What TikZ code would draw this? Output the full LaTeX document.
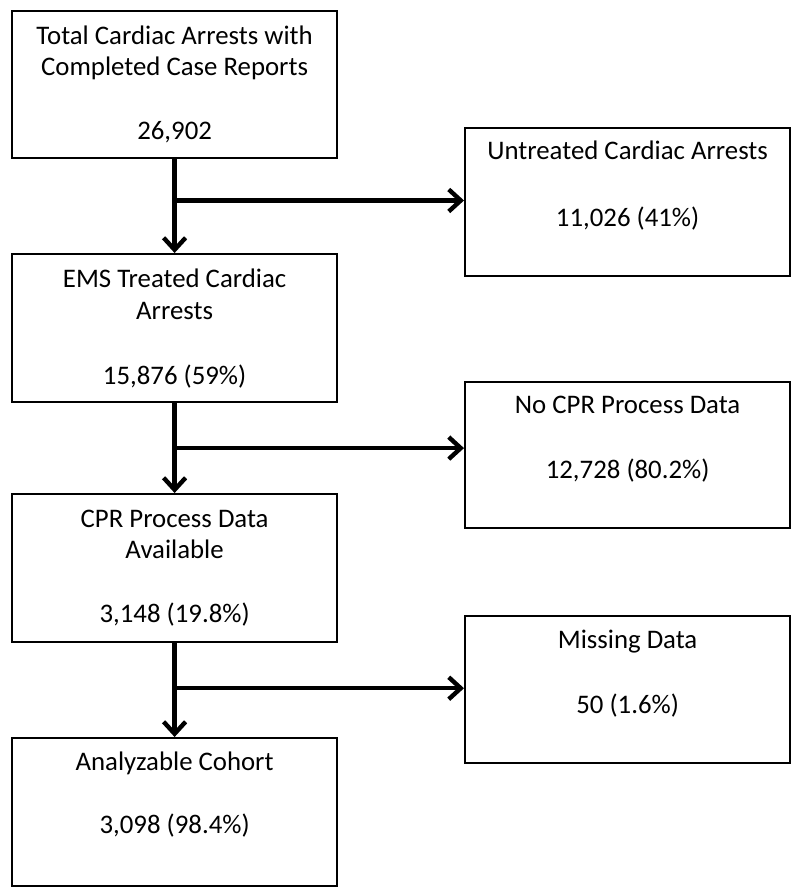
\documentclass[tikz,border=0pt]{standalone}
\usepackage{fontspec}
\setmainfont{Carlito}
\usetikzlibrary{arrows.meta,calc}
\begin{document}
\begin{tikzpicture}[x=1pt,y=1pt,
  box/.style={draw=black,line width=2.2pt,minimum width=325pt,minimum height=147pt,inner sep=0pt,anchor=north west},
  txt/.style={anchor=base,font=\fontsize{26.8}{32}\selectfont,inner sep=0pt},
  flow/.style={line width=4.4pt,-{Straight Barb[length=12pt,width=22pt,line width=4.4pt]}}]
\useasboundingbox (0,0) rectangle (800,-896);
% left column
\node[box] (b1) at (11,-10) {};
\node[box,minimum height=148pt] (b2) at (11,-253) {};
\node[box,minimum height=148pt] (b3) at (11,-493) {};
\node[box,minimum height=148pt] (b4) at (11,-737) {};
% right column
\node[box,minimum height=148pt] (r1) at (464,-127) {};
\node[box,minimum height=146pt] (r2) at (464,-381) {};
\node[box,minimum height=147pt] (r3) at (464,-615) {};
% texts
\node[txt] (t1a) at ($(b1.north)+(0,-35)$) {Total Cardiac Arrests with};
\node[txt] (t1b) at ($(b1.north)+(0,-66)$) {Completed Case Reports};
\node[txt] (t1c) at ($(b1.north)+(0,-130)$) {26,902};
\node[txt] (t2a) at ($(b2.north)+(0,-34)$) {EMS Treated Cardiac};
\node[txt] (t2b) at ($(b2.north)+(0,-66)$) {Arrests};
\node[txt] (t2c) at ($(b2.north)+(0,-131)$) {15,876 (59\%)};
\node[txt] (t3a) at ($(b3.north)+(0,-34)$) {CPR Process Data};
\node[txt] (t3b) at ($(b3.north)+(0,-65)$) {Available};
\node[txt] (t3c) at ($(b3.north)+(0,-129)$) {3,148 (19.8\%)};
\node[txt] (t4a) at ($(b4.north)+(0,-33)$) {Analyzable Cohort};
\node[txt] (t4b) at ($(b4.north)+(0,-96)$) {3,098 (98.4\%)};
\node[txt] (u1a) at ($(r1.north)+(0,-33)$) {Untreated Cardiac Arrests};
\node[txt] (u1b) at ($(r1.north)+(0,-99)$) {11,026 (41\%)};
\node[txt] (u2a) at ($(r2.north)+(0,-32)$) {No CPR Process Data};
\node[txt] (u2b) at ($(r2.north)+(0,-97)$) {12,728 (80.2\%)};
\node[txt] (u3a) at ($(r3.north)+(0,-33)$) {Missing Data};
\node[txt] (u3b) at ($(r3.north)+(0,-98)$) {50 (1.6\%)};
% branch points
\coordinate (j1) at ($(b1.south)!0.44!(b2.north)$);
\coordinate (j2) at ($(b2.south)!0.5!(b3.north)$);
\coordinate (j3) at ($(b3.south)!0.48!(b4.north)$);
% connectors
\draw[flow] (b1.south) -- (b2.north);
\draw[flow] (j1) -- (j1 -| r1.west);
\draw[flow] (b2.south) -- (b3.north);
\draw[flow] (j2) -- (j2 -| r2.west);
\draw[flow] (b3.south) -- (b4.north);
\draw[flow] (j3) -- (j3 -| r3.west);
\end{tikzpicture}
\end{document}
